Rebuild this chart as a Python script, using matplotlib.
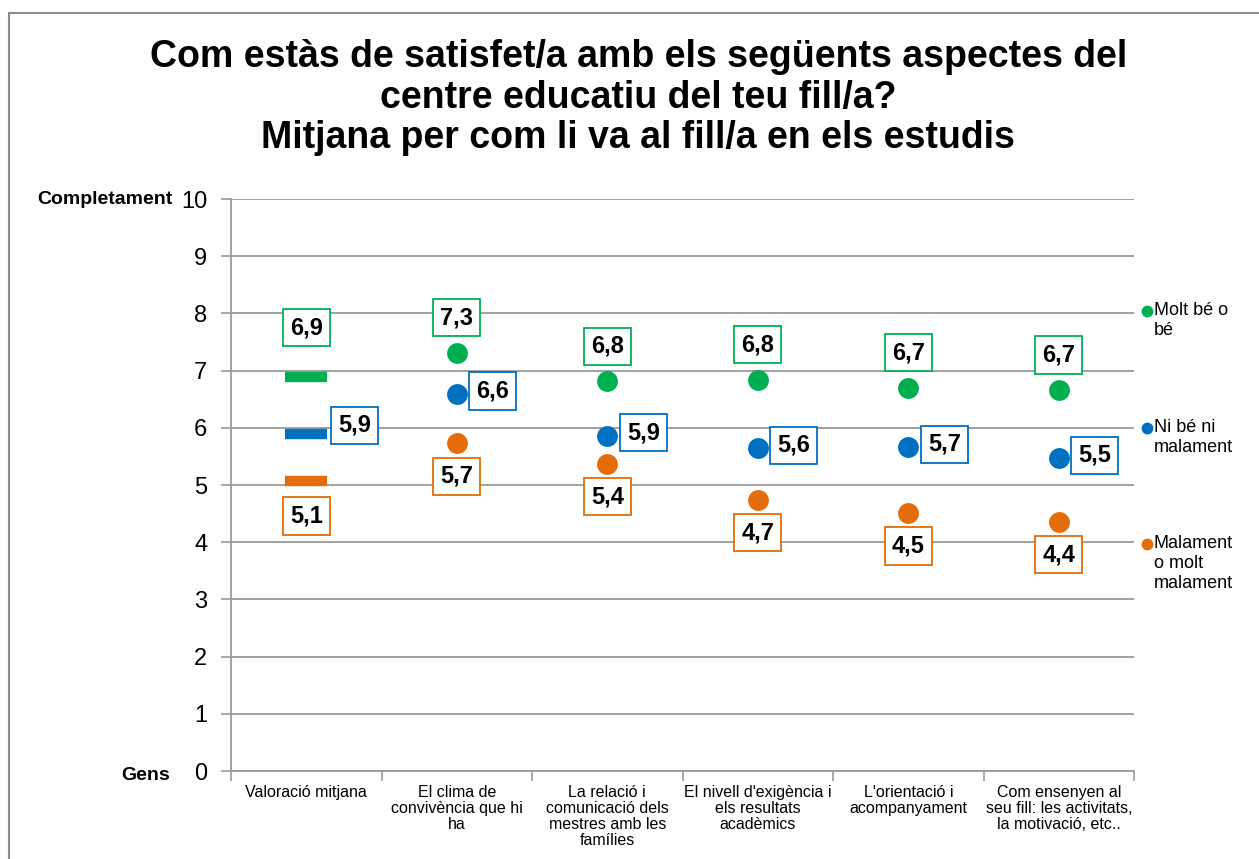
import numpy as np
import matplotlib
matplotlib.use('Agg')
from matplotlib import pyplot as plt
from matplotlib.patches import Rectangle

plt.rcParams['font.family'] = ['Liberation Sans', 'DejaVu Sans']

categories = ['Valoració mitjana',
              'El clima de\nconvivència que hi\nha',
              'La relació i\ncomunicació dels\nmestres amb les\nfamílies',
              "El nivell d'exigència i\nels resultats\nacadèmics",
              "L'orientació i\nacompanyament",
              'Com ensenyen al\nseu fill: les activitats,\nla motivació, etc..']
series_names = ['Molt bé o\nbé', 'Ni bé ni\nmalament', 'Malament\no molt\nmalament']
molt_be = [6.89, 7.31, 6.81, 6.84, 6.70, 6.66]
ni_be = [5.89, 6.59, 5.86, 5.64, 5.66, 5.47]
malament = [5.07, 5.73, 5.37, 4.74, 4.51, 4.36]

colors = ['#00B050', '#0070C0', '#E46C0A']
grid_c = '#9A9A9A'

fig = plt.figure(figsize=(12.59, 8.59), dpi=100)
ax = fig.add_axes([231/1259, 1-771/859, (1134-231)/1259, (771-199)/859])

x = np.arange(len(categories))
all_series = [molt_be, ni_be, malament]
# label offsets in pixels: (first category, others)
offsets = [((0, 49), (0, 35)), ((48, 9), (36, 3)), ((0, -35), (0, -33))]

for vals, col, offs in zip(all_series, colors, offsets):
    ax.plot(x[:1], vals[:1], ls='none', marker='_', ms=30, mew=7.5, color=col, zorder=3)
    ax.plot(x[1:], vals[1:], ls='none', marker='o', ms=15, mec='none', color=col, zorder=3)
    for i, v in enumerate(vals):
        dx, dy = offs[0] if i == 0 else offs[1]
        ax.annotate(('%.1f' % v).replace('.', ','), (x[i], v), xytext=(dx, dy),
                    textcoords='offset pixels', ha='center', va='center',
                    fontsize=17, fontweight='bold', zorder=4,
                    bbox=dict(boxstyle='square,pad=0.3', fc='white', ec=col, lw=1.3))

ax.set_xlim(-0.5, len(categories) - 0.5)
ax.set_ylim(0, 10)
ax.set_yticks(range(0, 11))
ax.tick_params(axis='y', labelsize=17, length=7, color=grid_c, width=1.2, pad=10)
ax.yaxis.grid(True, color=grid_c, lw=1.3)
ax.set_axisbelow(True)
ax.set_xticks(x)
ax.set_xticklabels(categories, fontsize=11.5, va='top', linespacing=1.1)
ax.tick_params(axis='x', length=0, pad=10)
ax.set_xticks(np.arange(-0.5, len(categories)), minor=True)
ax.tick_params(axis='x', which='minor', length=7, color=grid_c, width=1.2)
for s in ['top', 'right']:
    ax.spines[s].set_visible(False)
for s in ['left', 'bottom']:
    ax.spines[s].set_color(grid_c)
    ax.spines[s].set_linewidth(1.3)

ax.text(-0.065, 1.0, 'Completament', transform=ax.transAxes, ha='right', va='center',
        fontsize=14, fontweight='bold')
ax.text(-0.068, -0.007, 'Gens', transform=ax.transAxes, ha='right', va='center',
        fontsize=14, fontweight='bold')

# legend
leg_y = [8.05, 6.0, 3.97]
for name, col, ly in zip(series_names, colors, leg_y):
    ax.plot([1.0145], [ly], transform=ax.get_yaxis_transform(), marker='o', ms=8.5,
            mec='none', color=col, clip_on=False)
    ax.annotate(name, (1.022, ly), xycoords=ax.get_yaxis_transform(), xytext=(0, 9),
                textcoords='offset pixels', ha='left', va='top',
                fontsize=13, linespacing=1.25, annotation_clip=False)

title_lines = ['Com estàs de satisfet/a amb els següents aspectes del',
               'centre educatiu del teu fill/a?',
               'Mitjana per com li va al fill/a en els estudis']
for t, ty in zip(title_lines, [57, 98, 138]):
    fig.text(0.507, 1-ty/859, t, ha='center', va='center', fontsize=27, fontweight='bold')

fig.patches.append(Rectangle((8.5/1259, -0.1), 1.2, 1.1 - 13.5/859, transform=fig.transFigure,
                             fill=False, ec='#8C8C8C', lw=1.5))

fig.savefig('out.png', dpi=100)
